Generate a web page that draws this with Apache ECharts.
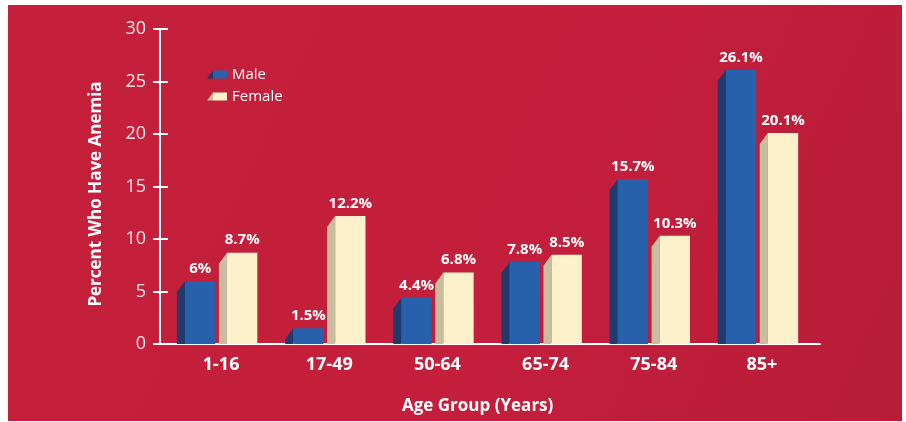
<!DOCTYPE html>
<html>
<head>
<meta charset="utf-8">
<script src="https://cdn.jsdelivr.net/npm/echarts@6/dist/echarts.min.js"></script>
<style>
  html, body { margin: 0; padding: 0; background: #ffffff; }
  #chart { width: 906px; height: 422px; }
</style>
</head>
<body>
<div id="chart"></div>
<script>
// Anemia prevalence by age group and sex
const ageGroups = ['1-16', '17-49', '50-64', '65-74', '75-84', '85+'];
const maleValues = [6, 1.5, 4.4, 7.8, 15.7, 26.1];
const femaleValues = [8.7, 12.2, 6.8, 8.5, 10.3, 20.1];
const yTicks = [0, 5, 10, 15, 20, 25, 30];

const FONT = '"Open Sans", "DejaVu Sans", sans-serif';
const maleColors = { front: '#2761ab', side: '#1f3a6b' };
const femaleColors = { front: '#fdf1cb', side: '#c9bd9f' };

// Pseudo-3D bar: a front face plus a darker slanted side face on its left.
// Offsets are expressed as fractions of the category band width.
function makeRenderer(values, frontStart, colors) {
  return function (params, api) {
    const idx = api.value(0);
    const val = api.value(1);
    const top = api.coord([idx, val]);
    const base = api.coord([idx, 0]);
    const band = api.size([1, 0])[0];
    const cx = top[0];
    const frontW = band * 0.28;
    const sideW = band * 0.075;
    const x0 = cx + band * frontStart;
    const drop = 11;
    const yTop = top[1];
    const yBase = base[1];
    const sideTop = Math.min(yTop + drop, yBase);
    return {
      type: 'group',
      children: [
        {
          type: 'polygon',
          shape: { points: [[x0, yTop], [x0 - sideW, sideTop], [x0 - sideW, yBase], [x0, yBase]] },
          style: { fill: colors.side }
        },
        {
          type: 'rect',
          shape: { x: x0, y: yTop, width: frontW, height: yBase - yTop },
          style: { fill: colors.front }
        },
        {
          type: 'text',
          style: {
            text: values[idx] + '%',
            x: x0 + frontW / 2,
            y: yTop - 5,
            align: 'center',
            verticalAlign: 'bottom',
            fill: '#ffffff',
            font: 'bold 15px ' + FONT
          }
        }
      ]
    };
  };
}

function legendGradient(c) {
  return {
    type: 'linear', x: 0, y: 0, x2: 1, y2: 0,
    colorStops: [
      { offset: 0, color: c.side }, { offset: 0.3, color: c.side },
      { offset: 0.3, color: c.front }, { offset: 1, color: c.front }
    ]
  };
}

const legendIcon = 'path://M6,0 L20,0 L20,8 L0,8 Z';

const chart = echarts.init(document.getElementById('chart'), null, { renderer: 'canvas' });

chart.setOption({
  animation: false,
  graphic: [
    {
      type: 'rect', left: 8, top: 5, z: -10,
      shape: { width: 894, height: 416 },
      style: {
        fill: {
          type: 'linear', x: 0, y: 0, x2: 1, y2: 1,
          colorStops: [
            { offset: 0, color: '#c41f3b' },
            { offset: 0.6, color: '#c31f3c' },
            { offset: 1, color: '#b81c37' }
          ]
        }
      }
    },
    {
      type: 'text', x: 96, y: 194, rotation: Math.PI / 2,
      style: {
        text: 'Percent Who Have Anemia',
        align: 'center', verticalAlign: 'middle',
        fill: '#ffffff', font: 'bold 17px ' + FONT
      }
    }
  ],
  title: {
    text: 'Age Group (Years)',
    left: 402, top: 398,
    padding: 0,
    textStyle: { color: '#ffffff', fontFamily: FONT, fontWeight: 'bold', fontSize: 17 }
  },
  legend: {
    orient: 'vertical',
    left: 207, top: 64,
    padding: [3, 0, 0, 0],
    itemWidth: 20, itemHeight: 8, itemGap: 7,
    textStyle: { color: '#ffffff', fontFamily: FONT, fontSize: 15 },
    data: [
      { name: 'Male', icon: legendIcon, itemStyle: { color: legendGradient(maleColors) } },
      { name: 'Female', icon: legendIcon, itemStyle: { color: legendGradient(femaleColors) } }
    ]
  },
  grid: [
    { left: 160, right: 86, top: 29, bottom: 78 },
    { left: 167, right: 90, top: 29, bottom: 78 }
  ],
  xAxis: [
    {
      gridIndex: 0, type: 'category', data: [''],
      axisLine: { lineStyle: { color: '#ffffff', width: 2 } },
      axisTick: { show: false }, axisLabel: { show: false }
    },
    {
      gridIndex: 1, type: 'category', data: ageGroups,
      axisLine: { show: false }, axisTick: { show: false },
      axisLabel: { color: '#ffffff', fontFamily: FONT, fontWeight: 'bold', fontSize: 18, margin: 12 }
    }
  ],
  yAxis: [
    {
      gridIndex: 0, type: 'value', min: yTicks[0], max: yTicks[yTicks.length - 1], interval: 5,
      axisLine: { show: true, lineStyle: { color: '#ffffff', width: 2 } },
      axisTick: { show: true, length: 7, lineStyle: { color: '#ffffff', width: 2 } },
      axisLabel: { color: '#f7e6e8', fontFamily: FONT, fontSize: 18, margin: 14 },
      splitLine: { show: false }
    },
    {
      gridIndex: 0, type: 'value', position: 'left', min: yTicks[0], max: yTicks[yTicks.length - 1], interval: 5,
      axisLine: { show: false },
      axisTick: { show: true, inside: true, length: 8, lineStyle: { color: '#ffffff', width: 2 } },
      axisLabel: { show: false },
      splitLine: { show: false }
    },
    {
      gridIndex: 1, type: 'value', min: yTicks[0], max: yTicks[yTicks.length - 1],
      show: false
    }
  ],
  series: [
    {
      name: 'Male', type: 'custom', xAxisIndex: 1, yAxisIndex: 2,
      itemStyle: { color: maleColors.front },
      renderItem: makeRenderer(maleValues, -0.333, maleColors),
      data: maleValues.map((v, i) => [i, v])
    },
    {
      name: 'Female', type: 'custom', xAxisIndex: 1, yAxisIndex: 2,
      itemStyle: { color: femaleColors.front },
      renderItem: makeRenderer(femaleValues, 0.055, femaleColors),
      data: femaleValues.map((v, i) => [i, v])
    }
  ]
});
</script>
</body>
</html>
